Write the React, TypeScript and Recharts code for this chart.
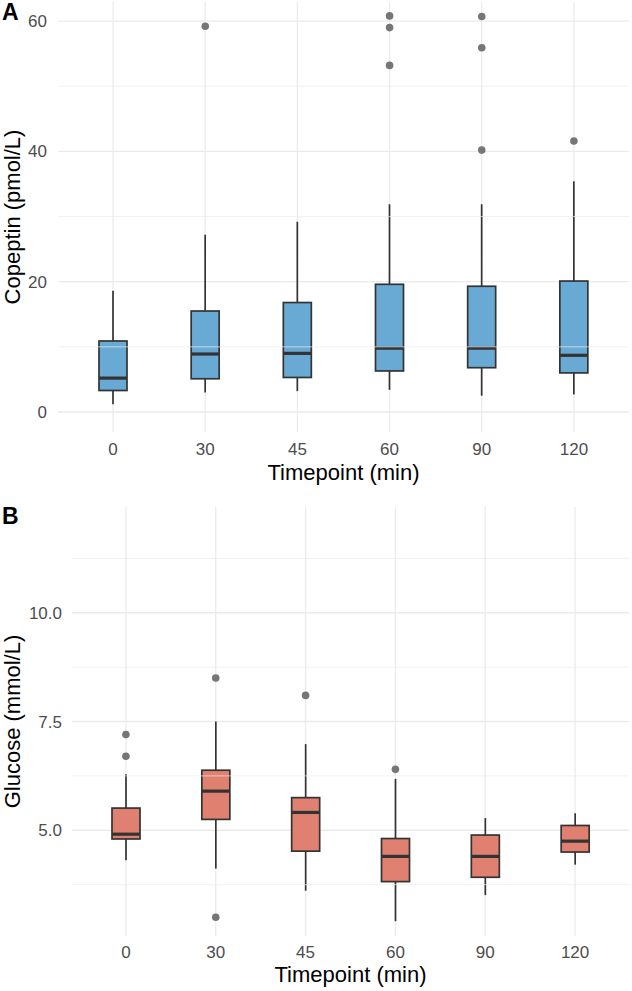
import React from 'react'
import {
  ComposedChart,
  Bar,
  Scatter,
  XAxis,
  YAxis,
  CartesianGrid,
  ReferenceLine,
} from 'recharts'

const TIMEPOINTS = ['0', '30', '45', '60', '90', '120']

// Copeptin (pmol/L)
const COP_LOW = [1.2, 3.0, 3.2, 3.4, 2.5, 2.7]
const COP_Q1 = [3.3, 5.1, 5.3, 6.3, 6.8, 6.0]
const COP_MED = [5.2, 8.9, 9.0, 9.8, 9.8, 8.7]
const COP_Q3 = [10.9, 15.5, 16.8, 19.6, 19.3, 20.1]
const COP_HIGH = [18.6, 27.2, 29.2, 31.9, 31.9, 35.4]
const COP_OUT_TIME = ['30', '60', '60', '60', '90', '90', '90', '120']
const COP_OUT_VALUE = [59.2, 60.8, 59.0, 53.2, 60.7, 55.9, 40.2, 41.6]
const COP_TICKS = [0, 20, 40, 60]
const COP_MINOR = [10, 30, 50]

// Glucose (mmol/L)
const GLU_LOW = [4.31, 4.12, 3.61, 2.91, 3.51, 4.21]
const GLU_Q1 = [4.8, 5.25, 4.52, 3.82, 3.92, 4.5]
const GLU_MED = [4.91, 5.9, 5.41, 4.4, 4.4, 4.75]
const GLU_Q3 = [5.51, 6.38, 5.75, 4.81, 4.89, 5.11]
const GLU_HIGH = [6.29, 7.5, 6.98, 6.18, 5.28, 5.39]
const GLU_OUT_TIME = ['0', '0', '30', '30', '45', '60']
const GLU_OUT_VALUE = [7.2, 6.7, 8.5, 3.0, 8.1, 6.4]
const GLU_TICKS = [5, 7.5, 10]
const GLU_MINOR = [3.75, 6.25, 8.75, 11.25]

const FONT = '"Liberation Sans", Arial, sans-serif'
const GRID = '#ebebeb'
const INK = '#333333'

type Box = { time: string; low: number; q1: number; med: number; q3: number; high: number }

function buildBoxes(low: number[], q1: number[], med: number[], q3: number[], high: number[]): Box[] {
  return TIMEPOINTS.map((t, i) => ({ time: t, low: low[i], q1: q1[i], med: med[i], q3: q3[i], high: high[i] }))
}

function buildOutliers(times: string[], values: number[]) {
  return times.map((t, i) => ({ time: t, value: values[i] }))
}

// draws one box from the range bar [low, high] the library has already scaled
function makeBoxShape(fill: string) {
  return (props: any) => {
    const { x, y, width, height, payload } = props
    const d = payload as Box
    const k = height / (d.high - d.low)
    const py = (v: number) => y + (d.high - v) * k
    const cx = x + width / 2
    return (
      <g>
        <line x1={cx} x2={cx} y1={py(d.high)} y2={py(d.q3)} stroke={INK} strokeWidth={1.7} />
        <line x1={cx} x2={cx} y1={py(d.q1)} y2={py(d.low)} stroke={INK} strokeWidth={1.7} />
        <rect
          x={x}
          y={py(d.q3)}
          width={width}
          height={py(d.q1) - py(d.q3)}
          fill={fill}
          stroke={INK}
          strokeWidth={1.7}
        />
        <line x1={x} x2={x + width} y1={py(d.med)} y2={py(d.med)} stroke={INK} strokeWidth={3.2} />
      </g>
    )
  }
}

const outlierDot = (props: any) => <circle cx={props.cx} cy={props.cy} r={3.8} fill="#767676" />

interface PanelProps {
  boxes: Box[]
  outliers: { time: string; value: number }[]
  fill: string
  domain: [number, number]
  ticks: number[]
  minor: number[]
  fmt: (v: number) => string
  yTitle: string
  height: number
  top: number
  yWidth: number
  xHeight: number
  yTickMargin: number
  xTickMargin: number
  titleOffset: number
}

function BoxPanel(p: PanelProps) {
  return (
    <ComposedChart
      width={632}
      height={p.height}
      data={p.boxes}
      margin={{ top: p.top, right: 3, bottom: 0, left: 0 }}
      style={{ fontFamily: FONT }}
    >
      <CartesianGrid stroke={GRID} strokeWidth={1.3} syncWithTicks />
      {p.minor.map((v) => (
        <ReferenceLine key={v} y={v} stroke={GRID} strokeWidth={0.7} />
      ))}
      <XAxis
        dataKey="time"
        type="category"
        allowDuplicatedCategory={false}
        axisLine={false}
        tickLine={false}
        height={p.xHeight}
        tickMargin={p.xTickMargin}
        padding={{ left: 9, right: 9 }}
        tick={{ fontSize: 17, fill: '#4d4d4d' }}
        label={{
          value: 'Timepoint (min)',
          position: 'insideBottom',
          offset: p.titleOffset,
          style: { fontSize: 22, fill: '#000' },
        }}
      />
      <YAxis
        type="number"
        domain={p.domain}
        allowDataOverflow
        ticks={p.ticks}
        tickFormatter={p.fmt}
        axisLine={false}
        tickLine={false}
        width={p.yWidth}
        tickMargin={p.yTickMargin}
        tick={{ fontSize: 17, fill: '#4d4d4d' }}
        label={{
          value: p.yTitle,
          angle: -90,
          position: 'insideLeft',
          offset: 12,
          style: { fontSize: 22, fill: '#000', textAnchor: 'middle' },
        }}
      />
      <Bar
        dataKey={(d: Box) => [d.low, d.high]}
        barSize={28}
        shape={makeBoxShape(p.fill)}
        isAnimationActive={false}
      />
      <Scatter data={p.outliers} dataKey="value" shape={outlierDot} isAnimationActive={false} />
    </ComposedChart>
  )
}

const panelLabel: React.CSSProperties = {
  position: 'absolute',
  left: 2,
  fontFamily: FONT,
  fontWeight: 700,
  fontSize: 23,
  lineHeight: '23px',
  color: '#000',
}

export default function App() {
  return (
    <div style={{ position: 'absolute', left: 0, top: 0, width: 632, height: 991, background: '#fff' }}>
      <div style={{ position: 'absolute', left: 0, top: 0 }}>
        <BoxPanel
          boxes={buildBoxes(COP_LOW, COP_Q1, COP_MED, COP_Q3, COP_HIGH)}
          outliers={buildOutliers(COP_OUT_TIME, COP_OUT_VALUE)}
          fill="#68aad3"
          domain={[-3.07, 62.93]}
          ticks={COP_TICKS}
          minor={COP_MINOR}
          fmt={(v) => String(v)}
          yTitle="Copeptin (pmol/L)"
          height={495}
          top={2}
          yWidth={58}
          xHeight={63}
          yTickMargin={5}
          xTickMargin={5}
          titleOffset={15}
        />
      </div>
      <div style={{ position: 'absolute', left: 0, top: 495 }}>
        <BoxPanel
          boxes={buildBoxes(GLU_LOW, GLU_Q1, GLU_MED, GLU_Q3, GLU_HIGH)}
          outliers={buildOutliers(GLU_OUT_TIME, GLU_OUT_VALUE)}
          fill="#e08070"
          domain={[2.57, 12.43]}
          ticks={GLU_TICKS}
          minor={GLU_MINOR}
          fmt={(v) => v.toFixed(1)}
          yTitle="Glucose (mmol/L)"
          height={496}
          top={12}
          yWidth={72}
          xHeight={55}
          yTickMargin={4}
          xTickMargin={4}
          titleOffset={9}
        />
      </div>
      <div style={{ ...panelLabel, top: 1 }}>A</div>
      <div style={{ ...panelLabel, top: 505 }}>B</div>
    </div>
  )
}
